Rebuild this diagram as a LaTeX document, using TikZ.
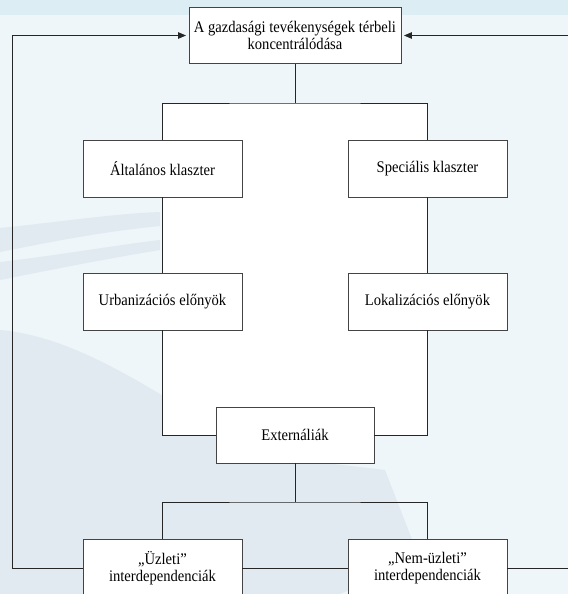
\documentclass[tikz,border=0pt]{standalone}
\usepackage{fontspec}
\setmainfont{Liberation Serif}[FakeStretch=0.9]
\usepackage{tikz}
\usetikzlibrary{arrows.meta, positioning, calc}

\definecolor{bgblue}{HTML}{EEF6F9}
\definecolor{bandblue}{HTML}{DCEEF3}
\definecolor{markblue}{HTML}{E1EAF1}
\definecolor{boxline}{HTML}{444444}

\begin{document}
\begin{tikzpicture}[x=1bp, y=-1bp,
        box/.style={draw=boxline, fill=white, line width=0.9bp, minimum width=159bp,
            minimum height=57bp, inner sep=2bp, align=center,
            font=\fontsize{16.2bp}{16.5bp}\selectfont},
        link/.style={line width=0.9bp, draw=black!85},
        feed/.style={link, shorten >=2.5bp, -{Triangle[length=8bp, width=6.5bp]}}]

        % Background
        \useasboundingbox (0,0) rectangle (568,594);
        \fill[bgblue] (0,0) rectangle (568,594);
        \fill[bandblue] (0,0) rectangle (568,15);

        % Faint watermark
        \fill[markblue] (0,228) .. controls (60,222) and (110,214) .. (160,212)
            -- (160,226) .. controls (100,232) and (50,242) .. (0,252) -- cycle;
        \fill[markblue] (0,262) .. controls (60,255) and (110,246) .. (160,240)
            -- (160,250) .. controls (100,260) and (50,270) .. (0,280) -- cycle;
        \fill[markblue] (0,330) .. controls (60,335) and (120,370) .. (170,400)
            -- (300,460) -- (385,470) -- (420,560) -- (340,594) -- (0,594) -- cycle;

        % White inner field
        \fill[white] (162.5,103) rectangle (427.5,435);

        % Boxes
        \node[box, minimum width=212bp, minimum height=56bp] (top) at (295,35.5)
            {A gazdasági tevékenységek térbeli\\koncentrálódása};
        \node[box] (alt) at (162.5,168.5) {Általános klaszter};
        \node[box] (spec) at (427.5,168.5) {Speciális klaszter};
        \node[box] (urb) at (162.5,301.5) {Urbanizációs előnyök};
        \node[box] (lok) at (427.5,301.5) {Lokalizációs előnyök};
        \node[box, minimum width=158bp, minimum height=56bp] (ext) at (295,435) {Externáliák};
        \node[box] (uzl) at (162.5,568) {„Üzleti”\\interdependenciák};
        \node[box] (nem) at (427.5,568) {„Nem-üzleti”\\interdependenciák};

        % Tree connectors
        \coordinate (split) at (295,103);
        \coordinate (join) at (295,502);
        \draw[link] (top.south) -- (split);
        \draw[link] (alt.north) |- (split) -| (spec.north);
        \draw[link] (alt.south) -- (urb.north);
        \draw[link] (spec.south) -- (lok.north);
        \draw[link] (urb.south) |- (ext.west);
        \draw[link] (lok.south) |- (ext.east);
        \draw[link] (ext.south) -- (join);
        \draw[link] (uzl.north) |- (join) -| (nem.north);
        \draw[link] (uzl.east) -- (nem.west);

        % Feedback loops
        \coordinate (lloop) at (12,568);
        \coordinate (rloop) at (580,568);
        \draw[feed] (uzl.west) -- (lloop) |- (top.west);
        \draw[feed] (nem.east) -- (rloop) |- (top.east);
    \end{tikzpicture}
\end{document}
